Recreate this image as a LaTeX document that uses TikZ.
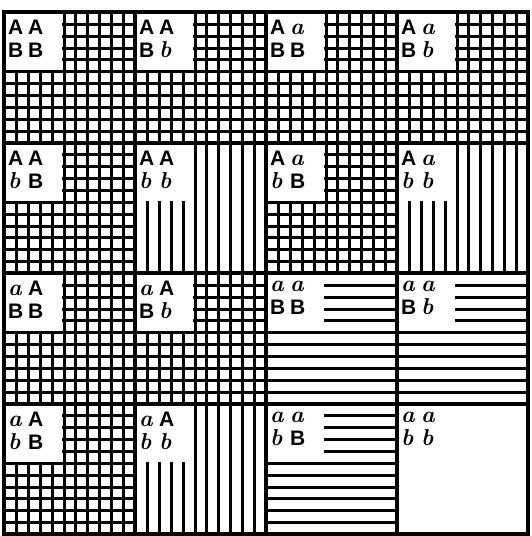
\documentclass[tikz,border=0pt]{standalone}
\usepackage{fontspec}
\usepackage{tikz}

\newfontfamily\capsfont{Liberation Sans}
% one letter of a genotype, in a box of fixed width
\newcommand{\gA}{\makebox[20pt][l]{\capsfont\bfseries\fontsize{21}{23}\selectfont A}}
\newcommand{\gB}{\makebox[20pt][l]{\capsfont\bfseries\fontsize{21}{23}\selectfont B}}
\newcommand{\ga}{\makebox[20pt][l]{\bfseries\itshape\fontsize{23}{23}\selectfont a}}
\newcommand{\gb}{\makebox[20pt][l]{\bfseries\itshape\fontsize{23}{23}\selectfont b}}

\begin{document}
\begin{tikzpicture}
                [x=1pt,y=-1pt,
                hatch/.style={line width=3pt},
                frame/.style={line width=4pt},
                tag/.style={fill=white,inner sep=0pt,anchor=north west,
                  minimum width=57pt,minimum height=57pt},
                gtype/.style={anchor=north west,inner sep=0pt,align=left,
                  font=\fontsize{21}{23}\selectfont}]
                \useasboundingbox (0,0) rectangle (531,536);
                % column i, row j, vertical lines?, horizontal lines?, genotype
                \foreach \i/\j/\vv/\hh/\ta/\tb in {
                  0/0/1/1/\gA\gA/\gB\gB, 1/0/1/1/\gA\gA/\gB\gb,
                  2/0/1/1/\gA\ga/\gB\gB, 3/0/1/1/\gA\ga/\gB\gb,
                  0/1/1/1/\gA\gA/\gb\gB, 1/1/1/0/\gA\gA/\gb\gb,
                  2/1/1/1/\gA\ga/\gb\gB, 3/1/1/0/\gA\ga/\gb\gb,
                  0/2/1/1/\ga\gA/\gB\gB, 1/2/1/1/\ga\gA/\gB\gb,
                  2/2/0/1/\ga\ga/\gB\gB, 3/2/0/1/\ga\ga/\gB\gb,
                  0/3/1/1/\ga\gA/\gb\gB, 1/3/1/0/\ga\gA/\gb\gb,
                  2/3/0/1/\ga\ga/\gb\gB, 3/3/0/0/\ga\ga/\gb\gb}{
                  \ifnum\vv=1
                    \foreach \k in {1,...,10}
                      \draw[hatch] ({round(4+131*\i+\k*131/11)+0.5},{round(12+130.5*\j)})
                        -- ++(0,131);
                  \fi
                  \ifnum\hh=1
                    \foreach \k in {1,...,10}
                      \draw[hatch] ({4+131*\i},{round(12+130.5*\j+\k*130.5/11)+0.5})
                        -- ++(131,0);
                  \fi
                  \node[tag] (t\i\j) at ({4+131*\i+1},{12+130.5*\j+1}) {};
                  \node[gtype] (g\i\j) at ([xshift=3pt,yshift=-7pt]t\i\j.north west)
                    {\ta\\\tb};
                }
                % the square and its cells
                \draw[frame] (4,12) rectangle (528,534);
                \foreach \i in {1,2,3} {
                  \draw[frame] ({round(4+131*\i)},12) -- ++(0,522);
                  \draw[frame] (4,{round(12+130.5*\i)}) -- ++(524,0);
                }
            \end{tikzpicture}
\end{document}
